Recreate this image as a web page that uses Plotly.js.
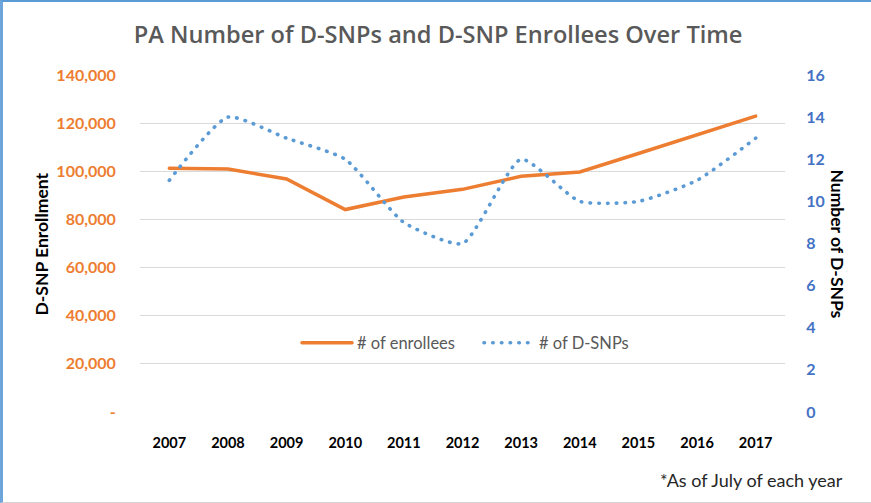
<!DOCTYPE html>
<html>
<head>
<meta charset="utf-8">
<script src="https://cdn.plot.ly/plotly-3.0.1.min.js"></script>
<style>
  html, body { margin: 0; padding: 0; background: #fff; }
  #wrap { position: relative; width: 871px; height: 503px; overflow: hidden; }
  #chart { position: absolute; left: 0; top: 0; width: 871px; height: 503px; }
  #frame { position: absolute; left: 0; top: 0; width: 868px; height: 500px;
           border-top: 2px solid #5b9bd5; border-left: 3px solid #6ea6dc;
           border-bottom: 1px solid #d4d4d4; pointer-events: none; }
  .js-line { stroke-linecap: round; }
</style>
</head>
<body>
<div id="wrap">
  <div id="chart"></div>
  <div id="frame"></div>
</div>
<script>
const years = ["2007","2008","2009","2010","2011","2012","2013","2014","2015","2016","2017"];
const enrollees = [101300, 100900, 96800, 84100, 89300, 92500, 97900, 99700, 107400, 115200, 122900];
const dsnps = [11, 14, 13, 12, 9, 8, 12, 10, 10, 11, 13];
const leftTickVals = [0, 20000, 40000, 60000, 80000, 100000, 120000, 140000];
const leftTickText = ["-", "20,000", "40,000", "60,000", "80,000", "100,000", "120,000", "140,000"];
const rightTickVals = [0, 2, 4, 6, 8, 10, 12, 14, 16];

const orange = "#ED7D31";
const blue = "#5B9BD5";

const traces = [
  {
    x: years, y: enrollees, name: "# of enrollees", type: "scatter", mode: "lines",
    line: { color: orange, width: 3.5 }, yaxis: "y"
  },
  {
    x: years, y: dsnps, name: "# of D-SNPs", type: "scatter", mode: "lines",
    line: { color: blue, width: 3.6, dash: "0.5px,8.2px", shape: "spline", smoothing: 0.55 },
    yaxis: "y2"
  }
];

const layout = {
  width: 871, height: 503,
  margin: { l: 140, r: 86, t: 75, b: 91, pad: 0 },
  paper_bgcolor: "#fff", plot_bgcolor: "#fff",
  showlegend: true,
  title: {
    text: "PA Number of D-SNPs and D-SNP Enrollees Over Time",
    font: { family: "Open Sans", size: 23.6, color: "#595959", weight: 600 },
    xref: "container", x: 0.503, xanchor: "center",
    yref: "container", y: 1 - 35/503, yanchor: "middle"
  },
  xaxis: {
    type: "category", range: [-0.5, 10.5],
    showgrid: false, zeroline: false, showline: false,
    ticks: "outside", ticklen: 18, tickcolor: "rgba(0,0,0,0)",
    tickfont: { family: "Lato", size: 14.5, color: "#000", weight: "bold" }
  },
  yaxis: {
    range: [0, 140000], tickvals: leftTickVals, ticktext: leftTickText,
    showgrid: true, gridcolor: "#d9d9d9", gridwidth: 1,
    zeroline: false, showline: false,
    ticks: "outside", ticklen: 20, tickcolor: "rgba(0,0,0,0)",
    tickfont: { family: "Lato", size: 16, color: orange, weight: "bold" }
  },
  yaxis2: {
    range: [0, 16], tickvals: rightTickVals, overlaying: "y", side: "right",
    showgrid: false, zeroline: false, showline: false,
    ticks: "outside", ticklen: 17, tickcolor: "rgba(0,0,0,0)",
    tickfont: { family: "Lato", size: 16, color: "#4472C4", weight: "bold" }
  },
  legend: {
    orientation: "h", x: (297 - 140) / 645, xanchor: "left", y: 0.2047, yanchor: "middle",
    bgcolor: "rgba(0,0,0,0)", itemwidth: 50, entrywidth: 117, entrywidthmode: "pixels",
    font: { family: "Lato", size: 16.5, color: "#595959" }
  },
  annotations: [
    {
      text: "D-SNP Enrollment", xref: "paper", yref: "paper",
      x: (41 - 140) / 645, y: 0.5, xanchor: "center", yanchor: "middle",
      textangle: -90, showarrow: false,
      font: { family: "Lato", size: 17.5, color: "#000", weight: "bold" }
    },
    {
      text: "Number of D-SNPs", xref: "paper", yref: "paper",
      x: (837 - 140) / 645, y: 0.5, xanchor: "center", yanchor: "middle",
      textangle: 90, showarrow: false,
      font: { family: "Lato", size: 17.5, color: "#000", weight: "bold" }
    },
    {
      text: "*As of July of each year", xref: "paper", yref: "paper",
      x: (845 - 140) / 645, y: (412 - 480) / 337, xanchor: "right", yanchor: "middle",
      showarrow: false,
      font: { family: "Lato", size: 18, color: "#262626" }
    }
  ]
};

Plotly.newPlot("chart", traces, layout, { staticPlot: true, displayModeBar: false });
</script>
</body>
</html>
